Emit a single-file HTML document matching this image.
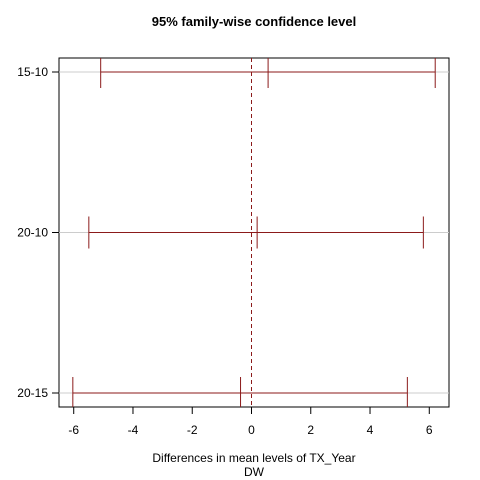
<!DOCTYPE html>
<html><head><meta charset="utf-8"><style>body{margin:0;background:#fff}svg{display:block;font-family:"Liberation Sans",Arial,sans-serif}</style></head>
<body>
<svg id="c" width="480" height="480">
<text x="254" y="26" text-anchor="middle" font-size="13" font-weight="bold">95% family-wise confidence level</text>
<rect x="59" y="58" width="390" height="349" fill="none" stroke="#000"/>
<g id="marks"></g>
<text x="254" y="462" text-anchor="middle" font-size="12">Differences in mean levels of TX_Year</text>
<text x="254" y="476" text-anchor="middle" font-size="12">DW</text>
</svg>
<script>
const categories = ["15-10","20-10","20-15"];
const lowers = [-5.09,-5.49,-6.03];
const centers = [0.56,0.19,-0.37];
const uppers = [6.2,5.8,5.26];
const xticks = [-6,-4,-2,0,2,4,6];
const NS="http://www.w3.org/2000/svg";
const g=document.getElementById('marks');
const X=v=>251.5+v*29.63;
const Y=i=>72+i*160.5;
function mk(t,a){const e=document.createElementNS(NS,t);for(const k in a)e.setAttribute(k,a[k]);g.appendChild(e);return e;}
xticks.forEach(t=>{
  const l=mk('line',{x1:X(t),x2:X(t),y1:407,y2:414,stroke:'#000'});
  
  
  const tx=mk('text',{x:X(t),y:434,'text-anchor':'middle','font-size':12});
  tx.textContent=t;
  
  
});
const z=mk('line',{x1:X(0),x2:X(0),y1:58,y2:407,stroke:'#8b1a1a','stroke-dasharray':'4,3'});


categories.forEach((c,i)=>{
  const y=Y(i);
  const gl=mk('line',{x1:59,x2:449,y1:y,y2:y,stroke:'#ccc'});
  
  
  const tk=mk('line',{x1:52,x2:59,y1:y,y2:y,stroke:'#000'});
  
  
  const lb=mk('text',{x:48,y:y+4,'text-anchor':'end','font-size':12});
  lb.textContent=c;
  
  
  const h=mk('line',{x1:X(lowers[i]),x2:X(uppers[i]),y1:y,y2:y,stroke:'#8b1a1a'});
  
  
  [lowers[i],centers[i],uppers[i]].forEach(v=>{
    const w=mk('line',{x1:X(v),x2:X(v),y1:Math.max(58,y-16),y2:Math.min(407,y+16),stroke:'#8b1a1a'});
    
    
  });
});
</script>
</body></html>
